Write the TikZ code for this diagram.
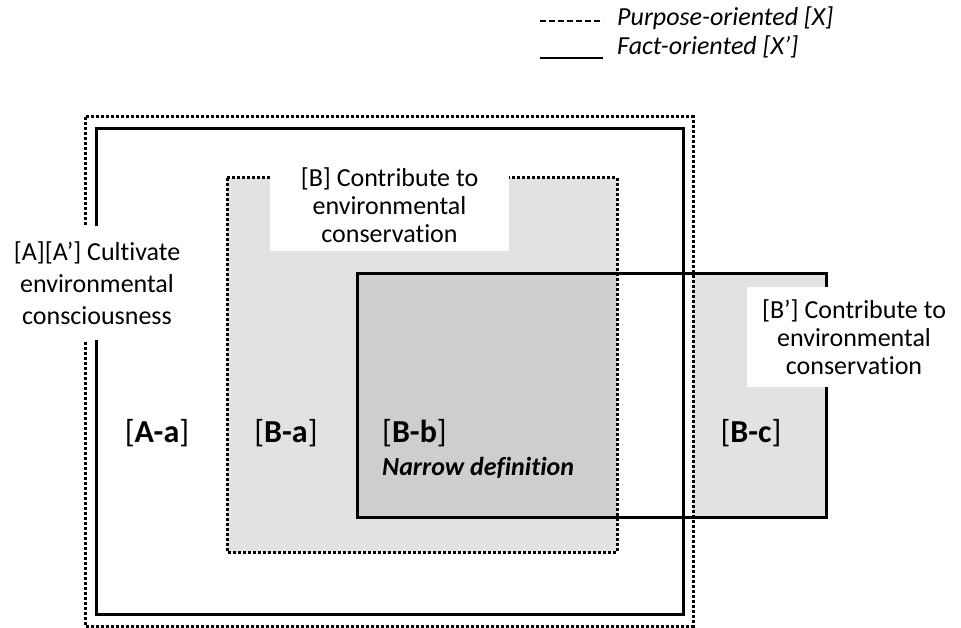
\documentclass[tikz,border=0pt]{standalone}
\usepackage{fontspec}
\setmainfont{Carlito}[Ligatures=NoCommon]
\usetikzlibrary{positioning}
\definecolor{lightfill}{HTML}{E2E2E2}
\definecolor{darkfill}{HTML}{CDCFCF}

\begin{document}
\begin{tikzpicture}[
        x=1pt, y=-1pt,
        font=\fontsize{26}{32}\selectfont,
        purposeline/.style={line width=3pt, dash pattern=on 2.8pt off 2.2pt},
        factline/.style={line width=3pt},
        legenddash/.style={line width=2.2pt, dash pattern=on 6pt off 3pt},
        legendsolid/.style={line width=2.4pt},
        labelbox/.style={fill=white, align=center, inner sep=0pt},
        regionlabel/.style={inner sep=0pt, font=\fontsize{32}{38}\selectfont}
    ]
        \useasboundingbox (0,0) rectangle (961,628);

        % regions
        \fill[lightfill] (227,178) rectangle (617,552);
        \fill[darkfill] (357,274) rectangle (617,517);
        \fill[lightfill] (693,274) rectangle (826,517);

        \draw[purposeline] (85,117) rectangle (693,626);
        \draw[factline] (96,129) rectangle (683,614);
        \draw[purposeline] (227,178) rectangle (617,552);
        \draw[factline] (357,274) rectangle (826,517);

        % labels
        \node[labelbox, minimum width=185pt, minimum height=114pt] (alabel) at (97,283) {[A][A’] Cultivate\\environmental\\consciousness};
        \node[labelbox, minimum width=239pt, minimum height=93pt, font=\fontsize{26}{28}\selectfont] (blabel) at (389.5,205) {[B] Contribute to\\environmental\\conservation};
        \node[labelbox, minimum width=214pt, minimum height=100pt, font=\fontsize{26}{28}\selectfont] (bplabel) at (854,337) {[B’] Contribute to\\environmental\\conservation};

        \node[regionlabel] (aa) at (157,433) {[\textbf{A-a}]};
        \node[regionlabel] (ba) at (286,433) {[\textbf{B-a}]};
        \node[regionlabel, anchor=west] (bb) at (382,433) {[\textbf{B-b}]};
        \node[inner sep=0pt, anchor=west] (narrow) at (382,468) {\textbf{\textit{Narrow definition}}};
        \node[regionlabel] (bc) at (751,433) {[\textbf{B-c}]};

        % legend
        \node[inner sep=0pt, anchor=west] (purpose) at (617,18) {\textit{Purpose-oriented [X]}};
        \node[inner sep=0pt, anchor=west] (fact) at (617,47) {\textit{Fact-oriented [X’]}};
        \draw[legenddash] ([xshift=-77pt, yshift=-3pt]purpose.west) -- ([xshift=-14pt, yshift=-3pt]purpose.west);
        \draw[legendsolid] ([xshift=-77pt, yshift=-11pt]fact.west) -- ([xshift=-14pt, yshift=-11pt]fact.west);
    \end{tikzpicture}
\end{document}
